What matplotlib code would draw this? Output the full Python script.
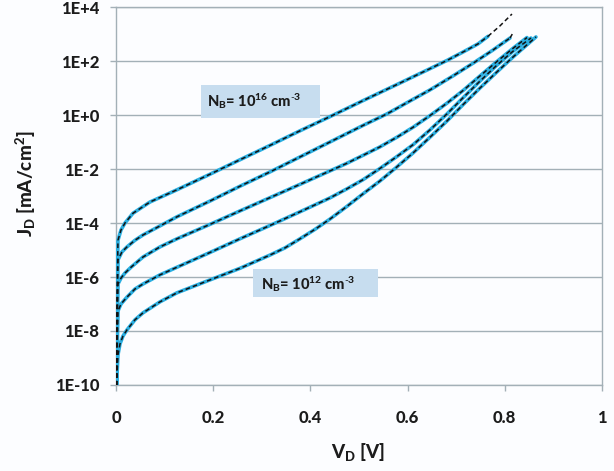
import matplotlib
matplotlib.use("Agg")
import matplotlib.pyplot as plt
from matplotlib.patches import Rectangle

# J-V curves, N_B = 1e16 (top) ... 1e12 (bottom)
v1 = [0.0, 0.0021, 0.0041, 0.0103, 0.0185, 0.035, 0.070, 0.1255, 0.1934, 0.2551, 0.3169,
      0.3786, 0.4403, 0.5082, 0.5782, 0.6461, 0.6811, 0.7181, 0.7449, 0.7654]
j1 = [1e-12, 1.4e-7, 2.3e-5, 5.5e-5, 1.0e-4, 2.3e-4, 6.0e-4, 1.7e-3, 6.4e-3, 2.2e-2, 7.5e-2,
      0.26, 0.87, 3.4, 13.5, 52, 105, 235, 430, 820]

v2 = [0.0, 0.0021, 0.0041, 0.0123, 0.0226, 0.0391, 0.0556, 0.0905, 0.1255, 0.1934, 0.2551,
      0.3169, 0.3786, 0.4403, 0.5082, 0.5576, 0.6049, 0.6461, 0.6934, 0.7387, 0.7757, 0.8107]
j2 = [1e-12, 2.6e-8, 4.3e-6, 8.5e-6, 1.3e-5, 2.3e-5, 3.6e-5, 7.8e-5, 1.7e-4, 6.5e-4, 2.3e-3,
      7.8e-3, 2.8e-2, 0.10, 0.41, 1.1, 3.3, 8.5, 28, 92, 255, 710]

v3 = [0.0, 0.0021, 0.0041, 0.0103, 0.0185, 0.0309, 0.0556, 0.0905, 0.1255, 0.1934, 0.2551,
      0.3169, 0.3786, 0.4403, 0.4742, 0.5082, 0.5432, 0.578, 0.6111, 0.6461, 0.6811, 0.715,
      0.749, 0.783, 0.8169, 0.8457]
j3 = [1e-12, 4.7e-9, 5.5e-7, 9.1e-7, 1.4e-6, 2.3e-6, 5.5e-6, 1.3e-5, 2.6e-5, 8.9e-5, 2.8e-4,
      8.7e-4, 2.7e-3, 8.5e-3, 1.6e-2, 3.2e-2, 6.6e-2, 0.15, 0.35, 0.95, 2.75, 8.3,
      28, 93, 295, 740]

v4 = [0.0, 0.0021, 0.0041, 0.0103, 0.0226, 0.0391, 0.0556, 0.0905, 0.1255, 0.1934, 0.2551,
      0.3169, 0.3786, 0.4403, 0.4742, 0.5082, 0.5432, 0.5757, 0.6111, 0.6461, 0.6811, 0.715,
      0.749, 0.783, 0.8169, 0.8539]
j4 = [1e-12, 8.5e-10, 5.5e-8, 1.0e-7, 1.8e-7, 3.6e-7, 5.5e-7, 1.2e-6, 2.3e-6, 8.1e-6, 2.6e-5,
      8.1e-5, 2.6e-4, 8.5e-4, 1.8e-3, 4.0e-3, 1.05e-2, 2.7e-2, 7.9e-2, 0.28, 1.1, 4.5,
      18, 68, 230, 710]

v5 = [0.0, 0.0021, 0.0041, 0.0082, 0.0144, 0.0226, 0.0391, 0.0556, 0.0905, 0.1255, 0.1934,
      0.2551, 0.3169, 0.3478, 0.3786, 0.4094, 0.4403, 0.4742, 0.5082, 0.5432, 0.5757, 0.6111,
      0.6461, 0.6811, 0.715, 0.749, 0.783, 0.8169, 0.8642]
j5 = [1e-12, 2.3e-10, 1.3e-9, 3.3e-9, 6.5e-9, 1.1e-8, 2.6e-8, 4.7e-8, 1.2e-7, 2.6e-7, 7.8e-7,
      2.1e-6, 6.5e-6, 1.2e-5, 2.6e-5, 5.8e-5, 1.4e-4, 4.0e-4, 1.2e-3, 3.6e-3, 1.1e-2, 3.9e-2,
      0.15, 0.60, 2.5, 10, 38, 140, 780]

# model (dashed) runs a bit past the data on the two upper curves
fit_ext_v1 = [0.7654, 0.7901, 0.8148]
fit_ext_j1 = [820, 2000, 5500]
fit_ext_v2 = [0.8107, 0.8169]
fit_ext_j2 = [710, 1100]

ytick_vals = [1e-10, 1e-8, 1e-6, 1e-4, 1e-2, 1e0, 1e2, 1e4]
ytick_labels = ["1E-10", "1E-8", "1E-6", "1E-4", "1E-2", "1E+0", "1E+2", "1E+4"]
xtick_vals = [0, 0.2, 0.4, 0.6, 0.8, 1.0]
xtick_labels = ["0", "0.2", "0.4", "0.6", "0.8", "1"]

plt.rcParams['font.family'] = ['Lato', 'DejaVu Sans']
plt.rcParams['mathtext.fontset'] = 'custom'
plt.rcParams['mathtext.rm'] = 'Lato'
plt.rcParams['mathtext.bf'] = 'Lato:black'
plt.rcParams['mathtext.it'] = 'Lato:italic'

txt_col = '#1c1c1c'
blue = '#2aaee0'
grid_col = '#a3b0b7'
bg = '#fcfdff'
W = 'black'

fig = plt.figure(figsize=(6.14, 4.71), dpi=100, facecolor=bg)
ax = fig.add_axes([0.1889, 0.1826, 0.7915, 0.8025], facecolor=bg)

curves = [(v1, j1), (v2, j2), (v3, j3), (v4, j4), (v5, j5)]
for v, j in curves:
    ax.plot(v, j, color=blue, lw=2.6, zorder=3, solid_capstyle='round')
for v, j in curves:
    ax.plot(v, j, color='#111111', lw=1.1, dashes=(3, 2), zorder=4)
ax.plot(fit_ext_v1, fit_ext_j1, color='#111111', lw=1.1, dashes=(3, 2), zorder=4)
ax.plot(fit_ext_v2, fit_ext_j2, color='#111111', lw=1.1, dashes=(3, 2), zorder=4)

ax.set_yscale('log')
ax.set_xlim(0, 1)
ax.set_ylim(1e-10, 1e4)
ax.set_yticks(ytick_vals)
ax.set_yticklabels(ytick_labels)
ax.yaxis.set_minor_locator(matplotlib.ticker.NullLocator())
ax.set_xticks(xtick_vals)
ax.set_xticklabels(xtick_labels)

ax.set_axisbelow(True)
ax.grid(axis='y', color=grid_col, lw=1.0)
for s in ax.spines.values():
    s.set_color(grid_col)
    s.set_linewidth(1.0)

ax.tick_params(axis='y', length=4, width=1, color=grid_col, pad=8,
               labelsize=12, labelcolor=txt_col)
ax.tick_params(axis='x', length=4, width=1, color=grid_col, pad=14,
               labelsize=12, labelcolor=txt_col)
for lab in ax.get_xticklabels() + ax.get_yticklabels():
    lab.set_fontweight(W)

# label boxes
ax.add_patch(Rectangle((0.175, 0.706), 0.245, 0.088, transform=ax.transAxes,
                       facecolor='#c7ddef', edgecolor='none', zorder=2))
ax.add_patch(Rectangle((0.282, 0.233), 0.257, 0.074, transform=ax.transAxes,
                       facecolor='#c7ddef', edgecolor='none', zorder=2))
ax.text(0.187, 0.750, r'N$_\mathbf{B}$= 10$^\mathbf{16}$ cm$^{\mathbf{\text{-}3}}$', transform=ax.transAxes,
        fontsize=10.5, fontweight=W, color=txt_col, va='center', ha='left', zorder=5)
ax.text(0.298, 0.268, r'N$_\mathbf{B}$= 10$^\mathbf{12}$ cm$^{\mathbf{\text{-}3}}$', transform=ax.transAxes,
        fontsize=10.5, fontweight=W, color=txt_col, va='center', ha='left', zorder=5)

fig.text(358 / 614, 1 - 452 / 471, r'V$_\mathbf{D}$ [V]', fontsize=13.5, fontweight=W,
         color=txt_col, ha='center', va='center')
fig.text(26 / 614, 1 - 184 / 471, r'J$_\mathbf{D}$ [mA/cm$^\mathbf{2}$]', fontsize=13.5,
         fontweight=W, color=txt_col, ha='center', va='center', rotation=90)

fig.savefig('out.png', dpi=100, facecolor=bg)
